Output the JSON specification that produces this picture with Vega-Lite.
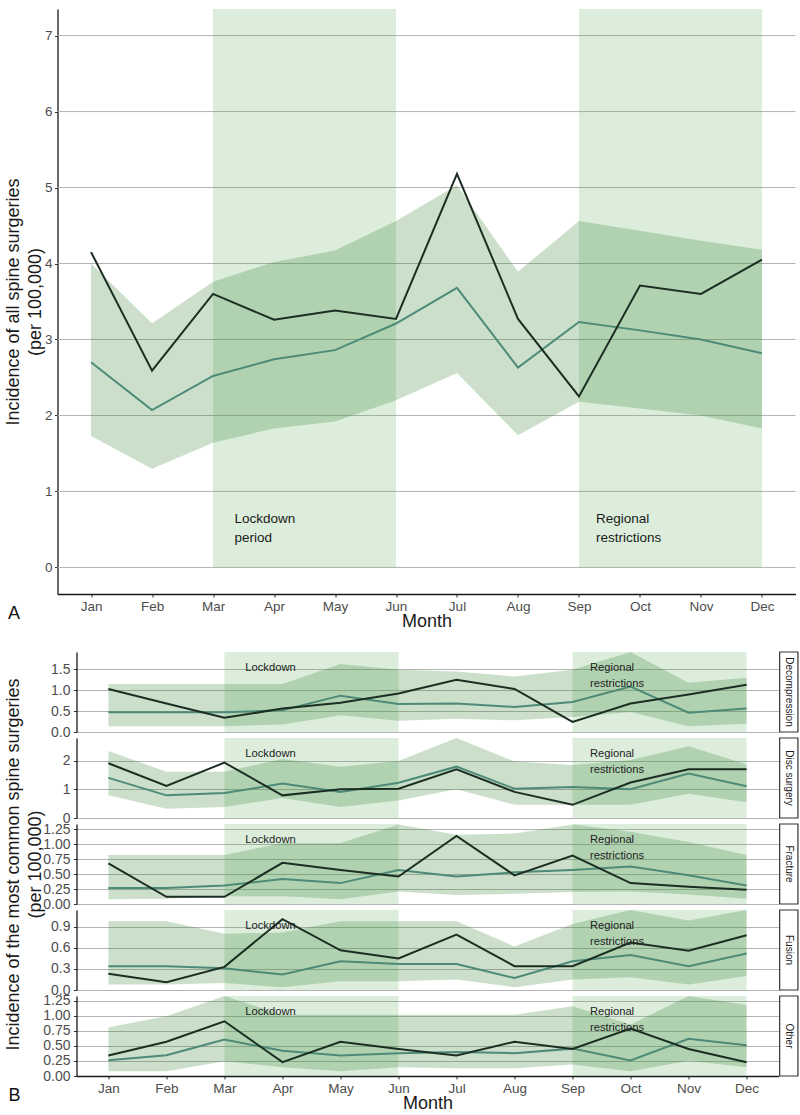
{
  "$schema": "https://vega.github.io/schema/vega-lite/v6.json",
  "background": "white",
  "padding": {"left": 3.5, "top": 9, "right": 0, "bottom": 0},
  "title": {"text": "B", "orient": "bottom", "anchor": "start", "frame": "bounds", "offset": -26, "dx": 4.5, "fontSize": 18, "fontWeight": "normal", "color": "#111111", "font": "Liberation Sans"},
  "columns": 1,
  "align": "none",
  "spacing": 20,
  "config": {
    "view": {"stroke": null},
    "font": "Liberation Sans",
    "axis": {"domainColor": "#1a1a1a", "domainWidth": 1.3, "tickColor": "#333333", "tickSize": 3, "tickWidth": 1, "labelColor": "#4d4d4d", "labelFont": "Liberation Sans", "titleFont": "Liberation Sans", "titleFontWeight": "normal", "titleColor": "#1a1a1a", "titleFontSize": 18, "gridColor": "#b3b3b3", "gridWidth": 1, "labelOverlap": false},
    "axisX": {"grid": false},
    "axisY": {"grid": true}
  },
  "datasets": {
    "shade": [{"start": 3, "end": 6}, {"start": 9, "end": 12}],
    "gridA": [{"g": 0}, {"g": 1}, {"g": 2}, {"g": 3}, {"g": 4}, {"g": 5}, {"g": 6}, {"g": 7}],
    "labels": [
      {"type": "All", "m": 3.35, "y": 0.64, "text": "Lockdown\nperiod"},
      {"type": "All", "m": 9.28, "y": 0.64, "text": "Regional\nrestrictions"},
      {"type": "Decompression", "m": 3.36, "y": 1.53, "text": "Lockdown"},
      {"type": "Decompression", "m": 9.3, "y": 1.53, "text": "Regional\nrestrictions"},
      {"type": "Disc surgery", "m": 3.36, "y": 2.22, "text": "Lockdown"},
      {"type": "Disc surgery", "m": 9.3, "y": 2.22, "text": "Regional\nrestrictions"},
      {"type": "Fracture", "m": 3.36, "y": 1.07, "text": "Lockdown"},
      {"type": "Fracture", "m": 9.3, "y": 1.07, "text": "Regional\nrestrictions"},
      {"type": "Fusion", "m": 3.36, "y": 0.91, "text": "Lockdown"},
      {"type": "Fusion", "m": 9.3, "y": 0.91, "text": "Regional\nrestrictions"},
      {"type": "Other", "m": 3.36, "y": 1.06, "text": "Lockdown"},
      {"type": "Other", "m": 9.3, "y": 1.06, "text": "Regional\nrestrictions"}
    ],
    "series": [
      {"type": "All", "m": 1, "obs": 4.15, "exp": 2.70, "lo": 1.73, "hi": 4.00},
      {"type": "All", "m": 2, "obs": 2.59, "exp": 2.07, "lo": 1.30, "hi": 3.21},
      {"type": "All", "m": 3, "obs": 3.60, "exp": 2.52, "lo": 1.64, "hi": 3.76},
      {"type": "All", "m": 4, "obs": 3.26, "exp": 2.74, "lo": 1.83, "hi": 4.02},
      {"type": "All", "m": 5, "obs": 3.38, "exp": 2.86, "lo": 1.92, "hi": 4.17},
      {"type": "All", "m": 6, "obs": 3.27, "exp": 3.21, "lo": 2.20, "hi": 4.56},
      {"type": "All", "m": 7, "obs": 5.18, "exp": 3.68, "lo": 2.56, "hi": 5.03},
      {"type": "All", "m": 8, "obs": 3.27, "exp": 2.63, "lo": 1.74, "hi": 3.89},
      {"type": "All", "m": 9, "obs": 2.25, "exp": 3.23, "lo": 2.18, "hi": 4.56},
      {"type": "All", "m": 10, "obs": 3.71, "exp": 3.12, "lo": 2.09, "hi": 4.43},
      {"type": "All", "m": 11, "obs": 3.60, "exp": 3.00, "lo": 2.00, "hi": 4.30},
      {"type": "All", "m": 12, "obs": 4.05, "exp": 2.82, "lo": 1.83, "hi": 4.18},

      {"type": "Decompression", "m": 1, "obs": 1.03, "exp": 0.47, "lo": 0.14, "hi": 1.15},
      {"type": "Decompression", "m": 2, "obs": 0.68, "exp": 0.47, "lo": 0.14, "hi": 1.15},
      {"type": "Decompression", "m": 3, "obs": 0.34, "exp": 0.47, "lo": 0.14, "hi": 1.15},
      {"type": "Decompression", "m": 4, "obs": 0.56, "exp": 0.52, "lo": 0.18, "hi": 1.15},
      {"type": "Decompression", "m": 5, "obs": 0.70, "exp": 0.87, "lo": 0.40, "hi": 1.63},
      {"type": "Decompression", "m": 6, "obs": 0.92, "exp": 0.67, "lo": 0.27, "hi": 1.49},
      {"type": "Decompression", "m": 7, "obs": 1.25, "exp": 0.68, "lo": 0.32, "hi": 1.45},
      {"type": "Decompression", "m": 8, "obs": 1.03, "exp": 0.60, "lo": 0.28, "hi": 1.33},
      {"type": "Decompression", "m": 9, "obs": 0.24, "exp": 0.72, "lo": 0.36, "hi": 1.49},
      {"type": "Decompression", "m": 10, "obs": 0.68, "exp": 1.09, "lo": 0.48, "hi": 1.915},
      {"type": "Decompression", "m": 11, "obs": 0.90, "exp": 0.46, "lo": 0.14, "hi": 1.18},
      {"type": "Decompression", "m": 12, "obs": 1.13, "exp": 0.56, "lo": 0.20, "hi": 1.30},

      {"type": "Disc surgery", "m": 1, "obs": 1.91, "exp": 1.40, "lo": 0.79, "hi": 2.34},
      {"type": "Disc surgery", "m": 2, "obs": 1.12, "exp": 0.79, "lo": 0.32, "hi": 1.61},
      {"type": "Disc surgery", "m": 3, "obs": 1.93, "exp": 0.87, "lo": 0.38, "hi": 1.61},
      {"type": "Disc surgery", "m": 4, "obs": 0.79, "exp": 1.20, "lo": 0.70, "hi": 2.06},
      {"type": "Disc surgery", "m": 5, "obs": 1.00, "exp": 0.91, "lo": 0.38, "hi": 1.79},
      {"type": "Disc surgery", "m": 6, "obs": 1.02, "exp": 1.23, "lo": 0.61, "hi": 1.99},
      {"type": "Disc surgery", "m": 7, "obs": 1.70, "exp": 1.79, "lo": 1.00, "hi": 2.79},
      {"type": "Disc surgery", "m": 8, "obs": 0.91, "exp": 1.02, "lo": 0.46, "hi": 1.97},
      {"type": "Disc surgery", "m": 9, "obs": 0.46, "exp": 1.08, "lo": 0.46, "hi": 1.85},
      {"type": "Disc surgery", "m": 10, "obs": 1.24, "exp": 1.00, "lo": 0.46, "hi": 2.02},
      {"type": "Disc surgery", "m": 11, "obs": 1.70, "exp": 1.55, "lo": 0.85, "hi": 2.50},
      {"type": "Disc surgery", "m": 12, "obs": 1.70, "exp": 1.11, "lo": 0.55, "hi": 1.87},

      {"type": "Fracture", "m": 1, "obs": 0.68, "exp": 0.27, "lo": 0.08, "hi": 0.82},
      {"type": "Fracture", "m": 2, "obs": 0.12, "exp": 0.27, "lo": 0.09, "hi": 0.82},
      {"type": "Fracture", "m": 3, "obs": 0.12, "exp": 0.31, "lo": 0.13, "hi": 0.82},
      {"type": "Fracture", "m": 4, "obs": 0.69, "exp": 0.42, "lo": 0.13, "hi": 1.02},
      {"type": "Fracture", "m": 5, "obs": 0.57, "exp": 0.35, "lo": 0.08, "hi": 1.02},
      {"type": "Fracture", "m": 6, "obs": 0.46, "exp": 0.57, "lo": 0.21, "hi": 1.33},
      {"type": "Fracture", "m": 7, "obs": 1.14, "exp": 0.46, "lo": 0.15, "hi": 1.16},
      {"type": "Fracture", "m": 8, "obs": 0.48, "exp": 0.53, "lo": 0.17, "hi": 1.18},
      {"type": "Fracture", "m": 9, "obs": 0.81, "exp": 0.57, "lo": 0.20, "hi": 1.33},
      {"type": "Fracture", "m": 10, "obs": 0.35, "exp": 0.63, "lo": 0.21, "hi": 1.21},
      {"type": "Fracture", "m": 11, "obs": 0.29, "exp": 0.48, "lo": 0.16, "hi": 1.04},
      {"type": "Fracture", "m": 12, "obs": 0.24, "exp": 0.31, "lo": 0.09, "hi": 0.82},

      {"type": "Fusion", "m": 1, "obs": 0.23, "exp": 0.34, "lo": 0.08, "hi": 0.98},
      {"type": "Fusion", "m": 2, "obs": 0.11, "exp": 0.34, "lo": 0.08, "hi": 0.98},
      {"type": "Fusion", "m": 3, "obs": 0.33, "exp": 0.31, "lo": 0.10, "hi": 0.80},
      {"type": "Fusion", "m": 4, "obs": 1.01, "exp": 0.22, "lo": 0.04, "hi": 0.82},
      {"type": "Fusion", "m": 5, "obs": 0.565, "exp": 0.41, "lo": 0.125, "hi": 0.98},
      {"type": "Fusion", "m": 6, "obs": 0.45, "exp": 0.37, "lo": 0.125, "hi": 0.98},
      {"type": "Fusion", "m": 7, "obs": 0.79, "exp": 0.37, "lo": 0.15, "hi": 0.98},
      {"type": "Fusion", "m": 8, "obs": 0.34, "exp": 0.17, "lo": 0.04, "hi": 0.62},
      {"type": "Fusion", "m": 9, "obs": 0.34, "exp": 0.41, "lo": 0.15, "hi": 0.94},
      {"type": "Fusion", "m": 10, "obs": 0.675, "exp": 0.50, "lo": 0.18, "hi": 1.14},
      {"type": "Fusion", "m": 11, "obs": 0.56, "exp": 0.34, "lo": 0.08, "hi": 0.99},
      {"type": "Fusion", "m": 12, "obs": 0.78, "exp": 0.52, "lo": 0.20, "hi": 1.14},

      {"type": "Other", "m": 1, "obs": 0.34, "exp": 0.26, "lo": 0.08, "hi": 0.81},
      {"type": "Other", "m": 2, "obs": 0.57, "exp": 0.345, "lo": 0.08, "hi": 0.995},
      {"type": "Other", "m": 3, "obs": 0.91, "exp": 0.605, "lo": 0.245, "hi": 1.33},
      {"type": "Other", "m": 4, "obs": 0.23, "exp": 0.42, "lo": 0.145, "hi": 1.02},
      {"type": "Other", "m": 5, "obs": 0.57, "exp": 0.34, "lo": 0.08, "hi": 1.02},
      {"type": "Other", "m": 6, "obs": 0.45, "exp": 0.38, "lo": 0.145, "hi": 1.02},
      {"type": "Other", "m": 7, "obs": 0.34, "exp": 0.40, "lo": 0.13, "hi": 1.02},
      {"type": "Other", "m": 8, "obs": 0.57, "exp": 0.38, "lo": 0.13, "hi": 1.02},
      {"type": "Other", "m": 9, "obs": 0.45, "exp": 0.455, "lo": 0.19, "hi": 1.16},
      {"type": "Other", "m": 10, "obs": 0.79, "exp": 0.26, "lo": 0.08, "hi": 0.855},
      {"type": "Other", "m": 11, "obs": 0.45, "exp": 0.62, "lo": 0.255, "hi": 1.33},
      {"type": "Other", "m": 12, "obs": 0.23, "exp": 0.51, "lo": 0.145, "hi": 1.18}
    ]
  },
  "concat": [
    {
      "width": 719,
      "height": 585,
      "title": {"text": "A", "orient": "bottom", "anchor": "start", "frame": "bounds", "offset": -26, "dx": 4, "fontSize": 18, "fontWeight": "normal", "color": "#111111", "font": "Liberation Sans"},
      "layer": [
        {
          "data": {"name": "gridA"},
          "mark": {"type": "rule", "color": "#b3b3b3", "strokeWidth": 1},
          "encoding": {
            "x": {"datum": 0.45, "type": "quantitative"},
            "x2": {"datum": 12.55},
            "y": {"field": "g", "type": "quantitative"}
          }
        },
        {
          "data": {"name": "shade"},
          "mark": {"type": "rect", "fill": "#5aa85a", "opacity": 0.21},
          "encoding": {
            "x": {"field": "start", "type": "quantitative", "scale": {"domain": [0.45, 12.55], "range": [-19, 719], "nice": false, "zero": false},
                  "axis": {"values": [1,2,3,4,5,6,7,8,9,10,11,12], "tickCount": 20, "labelExpr": "['Jan','Feb','Mar','Apr','May','Jun','Jul','Aug','Sep','Oct','Nov','Dec'][datum.value - 1]", "title": "Month", "labelFontSize": 13.5, "labelPadding": 2, "titlePadding": 0, "labelFlush": false, "labelOverlap": false}},
            "x2": {"field": "end"},
            "y": {"datum": 0, "type": "quantitative", "scale": {"domain": [-0.35, 7.35], "nice": false, "zero": false},
                  "axis": {"values": [0,1,2,3,4,5,6,7], "tickCount": 20, "format": "d", "grid": false, "offset": 19, "title": ["Incidence of all spine surgeries", "(per 100,000)"], "titleLineHeight": 22, "labelFontSize": 13.5, "labelPadding": 2.5, "titlePadding": 0.5, "minExtent": 13, "maxExtent": 13, "labelOverlap": false}},
            "y2": {"datum": 7.35}
          }
        },
        {
          "data": {"name": "series"},
          "transform": [{"filter": "datum.type === 'All'"}],
          "mark": {"type": "area", "fill": "#3f8a3f", "opacity": 0.27},
          "encoding": {
            "x": {"field": "m", "type": "quantitative"},
            "y": {"field": "lo", "type": "quantitative"},
            "y2": {"field": "hi"}
          }
        },
        {
          "data": {"name": "series"},
          "transform": [{"filter": "datum.type === 'All'"}],
          "mark": {"type": "line", "color": "#4d8b78", "strokeWidth": 2},
          "encoding": {
            "x": {"field": "m", "type": "quantitative"},
            "y": {"field": "exp", "type": "quantitative"}
          }
        },
        {
          "data": {"name": "series"},
          "transform": [{"filter": "datum.type === 'All'"}],
          "mark": {"type": "line", "color": "#1c2e22", "strokeWidth": 2},
          "encoding": {
            "x": {"field": "m", "type": "quantitative"},
            "y": {"field": "obs", "type": "quantitative"}
          }
        },
        {
          "data": {"name": "labels"},
          "transform": [{"filter": "datum.type === 'All'"}],
          "mark": {"type": "text", "align": "left", "baseline": "middle", "lineBreak": "\n", "lineHeight": 19, "fontSize": 13.5, "color": "#1a1a1a"},
          "encoding": {
            "x": {"field": "m", "type": "quantitative"},
            "y": {"field": "y", "type": "quantitative"},
            "text": {"field": "text"}
          }
        }
      ]
    },
    {
      "columns": 1,
      "spacing": 6,
      "bounds": "flush",
      "concat": [
        {
          "width": 702, "height": 80,
          "layer": [
            {"data": {"name": "shade"}, "mark": {"type": "rect", "fill": "#5aa85a", "opacity": 0.21},
             "encoding": {"x": {"field": "start", "type": "quantitative", "scale": {"domain": [0.45, 12.55], "nice": false, "zero": false}, "axis": null}, "x2": {"field": "end"}}},
            {"data": {"name": "series"}, "transform": [{"filter": "datum.type === 'Decompression'"}], "mark": {"type": "area", "fill": "#3f8a3f", "opacity": 0.27},
             "encoding": {"x": {"field": "m", "type": "quantitative", "axis": null},
                          "y": {"field": "lo", "type": "quantitative", "scale": {"domain": [0, 1.915], "nice": false}, "axis": {"values": [0, 0.5, 1, 1.5], "tickCount": 20, "format": ".1f", "title": null, "labelFontSize": 14, "labelPadding": 3.5, "minExtent": 32.5, "maxExtent": 32.5, "labelOverlap": false}},
                          "y2": {"field": "hi"}}},
            {"data": {"name": "series"}, "transform": [{"filter": "datum.type === 'Decompression'"}], "mark": {"type": "line", "color": "#4d8b78", "strokeWidth": 2},
             "encoding": {"x": {"field": "m", "type": "quantitative", "axis": null}, "y": {"field": "exp", "type": "quantitative"}}},
            {"data": {"name": "series"}, "transform": [{"filter": "datum.type === 'Decompression'"}], "mark": {"type": "line", "color": "#1c2e22", "strokeWidth": 2},
             "encoding": {"x": {"field": "m", "type": "quantitative", "axis": null}, "y": {"field": "obs", "type": "quantitative"}}},
            {"data": {"name": "labels"}, "transform": [{"filter": "datum.type === 'Decompression'"}], "mark": {"type": "text", "align": "left", "baseline": "middle", "lineBreak": "\n", "lineHeight": 16, "fontSize": 11.2, "color": "#222222"},
             "encoding": {"x": {"field": "m", "type": "quantitative", "axis": null}, "y": {"field": "y", "type": "quantitative"}, "text": {"field": "text"}}},
            {"data": {"values": [{"type": "Decompression"}]}, "mark": {"type": "rect", "fill": "white", "stroke": "#333333", "strokeWidth": 1.2},
             "encoding": {"x": {"datum": 12.57, "type": "quantitative", "axis": null}, "x2": {"datum": 12.885}}},
            {"data": {"values": [{"type": "Decompression"}]}, "mark": {"type": "text", "angle": 90, "align": "center", "baseline": "middle", "fontSize": 10, "color": "#1a1a1a"},
             "encoding": {"x": {"datum": 12.727, "type": "quantitative", "axis": null}, "text": {"field": "type"}}}
          ]
        },
        {
          "width": 702, "height": 80,
          "layer": [
            {"data": {"name": "shade"}, "mark": {"type": "rect", "fill": "#5aa85a", "opacity": 0.21},
             "encoding": {"x": {"field": "start", "type": "quantitative", "scale": {"domain": [0.45, 12.55], "nice": false, "zero": false}, "axis": null}, "x2": {"field": "end"}}},
            {"data": {"name": "series"}, "transform": [{"filter": "datum.type === 'Disc surgery'"}], "mark": {"type": "area", "fill": "#3f8a3f", "opacity": 0.27},
             "encoding": {"x": {"field": "m", "type": "quantitative", "axis": null},
                          "y": {"field": "lo", "type": "quantitative", "scale": {"domain": [0, 2.79], "nice": false}, "axis": {"values": [0, 1, 2], "tickCount": 20, "format": "d", "title": null, "labelFontSize": 14, "labelPadding": 3.5, "minExtent": 32.5, "maxExtent": 32.5, "labelOverlap": false}},
                          "y2": {"field": "hi"}}},
            {"data": {"name": "series"}, "transform": [{"filter": "datum.type === 'Disc surgery'"}], "mark": {"type": "line", "color": "#4d8b78", "strokeWidth": 2},
             "encoding": {"x": {"field": "m", "type": "quantitative", "axis": null}, "y": {"field": "exp", "type": "quantitative"}}},
            {"data": {"name": "series"}, "transform": [{"filter": "datum.type === 'Disc surgery'"}], "mark": {"type": "line", "color": "#1c2e22", "strokeWidth": 2},
             "encoding": {"x": {"field": "m", "type": "quantitative", "axis": null}, "y": {"field": "obs", "type": "quantitative"}}},
            {"data": {"name": "labels"}, "transform": [{"filter": "datum.type === 'Disc surgery'"}], "mark": {"type": "text", "align": "left", "baseline": "middle", "lineBreak": "\n", "lineHeight": 16, "fontSize": 11.2, "color": "#222222"},
             "encoding": {"x": {"field": "m", "type": "quantitative", "axis": null}, "y": {"field": "y", "type": "quantitative"}, "text": {"field": "text"}}},
            {"data": {"values": [{"type": "Disc surgery"}]}, "mark": {"type": "rect", "fill": "white", "stroke": "#333333", "strokeWidth": 1.2},
             "encoding": {"x": {"datum": 12.57, "type": "quantitative", "axis": null}, "x2": {"datum": 12.885}}},
            {"data": {"values": [{"type": "Disc surgery"}]}, "mark": {"type": "text", "angle": 90, "align": "center", "baseline": "middle", "fontSize": 10, "color": "#1a1a1a"},
             "encoding": {"x": {"datum": 12.727, "type": "quantitative", "axis": null}, "text": {"field": "type"}}}
          ]
        },
        {
          "width": 702, "height": 80,
          "layer": [
            {"data": {"name": "shade"}, "mark": {"type": "rect", "fill": "#5aa85a", "opacity": 0.21},
             "encoding": {"x": {"field": "start", "type": "quantitative", "scale": {"domain": [0.45, 12.55], "nice": false, "zero": false}, "axis": null}, "x2": {"field": "end"}}},
            {"data": {"name": "series"}, "transform": [{"filter": "datum.type === 'Fracture'"}], "mark": {"type": "area", "fill": "#3f8a3f", "opacity": 0.27},
             "encoding": {"x": {"field": "m", "type": "quantitative", "axis": null},
                          "y": {"field": "lo", "type": "quantitative", "scale": {"domain": [0, 1.34], "nice": false}, "axis": {"values": [0, 0.25, 0.5, 0.75, 1, 1.25], "tickCount": 20, "format": ".2f", "title": ["Incidence of the most common spine surgeries", "(per 100,000)"], "titleLineHeight": 22, "titlePadding": 0, "labelFontSize": 14, "labelPadding": 3.5, "minExtent": 32.5, "maxExtent": 32.5, "labelOverlap": false}},
                          "y2": {"field": "hi"}}},
            {"data": {"name": "series"}, "transform": [{"filter": "datum.type === 'Fracture'"}], "mark": {"type": "line", "color": "#4d8b78", "strokeWidth": 2},
             "encoding": {"x": {"field": "m", "type": "quantitative", "axis": null}, "y": {"field": "exp", "type": "quantitative"}}},
            {"data": {"name": "series"}, "transform": [{"filter": "datum.type === 'Fracture'"}], "mark": {"type": "line", "color": "#1c2e22", "strokeWidth": 2},
             "encoding": {"x": {"field": "m", "type": "quantitative", "axis": null}, "y": {"field": "obs", "type": "quantitative"}}},
            {"data": {"name": "labels"}, "transform": [{"filter": "datum.type === 'Fracture'"}], "mark": {"type": "text", "align": "left", "baseline": "middle", "lineBreak": "\n", "lineHeight": 16, "fontSize": 11.2, "color": "#222222"},
             "encoding": {"x": {"field": "m", "type": "quantitative", "axis": null}, "y": {"field": "y", "type": "quantitative"}, "text": {"field": "text"}}},
            {"data": {"values": [{"type": "Fracture"}]}, "mark": {"type": "rect", "fill": "white", "stroke": "#333333", "strokeWidth": 1.2},
             "encoding": {"x": {"datum": 12.57, "type": "quantitative", "axis": null}, "x2": {"datum": 12.885}}},
            {"data": {"values": [{"type": "Fracture"}]}, "mark": {"type": "text", "angle": 90, "align": "center", "baseline": "middle", "fontSize": 10, "color": "#1a1a1a"},
             "encoding": {"x": {"datum": 12.727, "type": "quantitative", "axis": null}, "text": {"field": "type"}}}
          ]
        },
        {
          "width": 702, "height": 80,
          "layer": [
            {"data": {"name": "shade"}, "mark": {"type": "rect", "fill": "#5aa85a", "opacity": 0.21},
             "encoding": {"x": {"field": "start", "type": "quantitative", "scale": {"domain": [0.45, 12.55], "nice": false, "zero": false}, "axis": null}, "x2": {"field": "end"}}},
            {"data": {"name": "series"}, "transform": [{"filter": "datum.type === 'Fusion'"}], "mark": {"type": "area", "fill": "#3f8a3f", "opacity": 0.27},
             "encoding": {"x": {"field": "m", "type": "quantitative", "axis": null},
                          "y": {"field": "lo", "type": "quantitative", "scale": {"domain": [0, 1.14], "nice": false}, "axis": {"values": [0, 0.3, 0.6, 0.9], "tickCount": 20, "format": ".1f", "title": null, "labelFontSize": 14, "labelPadding": 3.5, "minExtent": 32.5, "maxExtent": 32.5, "labelOverlap": false}},
                          "y2": {"field": "hi"}}},
            {"data": {"name": "series"}, "transform": [{"filter": "datum.type === 'Fusion'"}], "mark": {"type": "line", "color": "#4d8b78", "strokeWidth": 2},
             "encoding": {"x": {"field": "m", "type": "quantitative", "axis": null}, "y": {"field": "exp", "type": "quantitative"}}},
            {"data": {"name": "series"}, "transform": [{"filter": "datum.type === 'Fusion'"}], "mark": {"type": "line", "color": "#1c2e22", "strokeWidth": 2},
             "encoding": {"x": {"field": "m", "type": "quantitative", "axis": null}, "y": {"field": "obs", "type": "quantitative"}}},
            {"data": {"name": "labels"}, "transform": [{"filter": "datum.type === 'Fusion'"}], "mark": {"type": "text", "align": "left", "baseline": "middle", "lineBreak": "\n", "lineHeight": 16, "fontSize": 11.2, "color": "#222222"},
             "encoding": {"x": {"field": "m", "type": "quantitative", "axis": null}, "y": {"field": "y", "type": "quantitative"}, "text": {"field": "text"}}},
            {"data": {"values": [{"type": "Fusion"}]}, "mark": {"type": "rect", "fill": "white", "stroke": "#333333", "strokeWidth": 1.2},
             "encoding": {"x": {"datum": 12.57, "type": "quantitative", "axis": null}, "x2": {"datum": 12.885}}},
            {"data": {"values": [{"type": "Fusion"}]}, "mark": {"type": "text", "angle": 90, "align": "center", "baseline": "middle", "fontSize": 10, "color": "#1a1a1a"},
             "encoding": {"x": {"datum": 12.727, "type": "quantitative", "axis": null}, "text": {"field": "type"}}}
          ]
        },
        {
          "width": 702, "height": 80,
          "layer": [
            {"data": {"name": "shade"}, "mark": {"type": "rect", "fill": "#5aa85a", "opacity": 0.21},
             "encoding": {"x": {"field": "start", "type": "quantitative", "scale": {"domain": [0.45, 12.55], "nice": false, "zero": false},
                                "axis": {"values": [1,2,3,4,5,6,7,8,9,10,11,12], "tickCount": 20, "labelExpr": "['Jan','Feb','Mar','Apr','May','Jun','Jul','Aug','Sep','Oct','Nov','Dec'][datum.value - 1]", "title": "Month", "labelFontSize": 13.5, "labelPadding": 2, "titlePadding": 0, "labelFlush": false, "labelOverlap": false}},
                          "x2": {"field": "end"}}},
            {"data": {"name": "series"}, "transform": [{"filter": "datum.type === 'Other'"}], "mark": {"type": "area", "fill": "#3f8a3f", "opacity": 0.27},
             "encoding": {"x": {"field": "m", "type": "quantitative"},
                          "y": {"field": "lo", "type": "quantitative", "scale": {"domain": [0, 1.33], "nice": false}, "axis": {"values": [0, 0.25, 0.5, 0.75, 1, 1.25], "tickCount": 20, "format": ".2f", "title": null, "labelFontSize": 14, "labelPadding": 3.5, "minExtent": 32.5, "maxExtent": 32.5, "labelOverlap": false}},
                          "y2": {"field": "hi"}}},
            {"data": {"name": "series"}, "transform": [{"filter": "datum.type === 'Other'"}], "mark": {"type": "line", "color": "#4d8b78", "strokeWidth": 2},
             "encoding": {"x": {"field": "m", "type": "quantitative"}, "y": {"field": "exp", "type": "quantitative"}}},
            {"data": {"name": "series"}, "transform": [{"filter": "datum.type === 'Other'"}], "mark": {"type": "line", "color": "#1c2e22", "strokeWidth": 2},
             "encoding": {"x": {"field": "m", "type": "quantitative"}, "y": {"field": "obs", "type": "quantitative"}}},
            {"data": {"name": "labels"}, "transform": [{"filter": "datum.type === 'Other'"}], "mark": {"type": "text", "align": "left", "baseline": "middle", "lineBreak": "\n", "lineHeight": 16, "fontSize": 11.2, "color": "#222222"},
             "encoding": {"x": {"field": "m", "type": "quantitative"}, "y": {"field": "y", "type": "quantitative"}, "text": {"field": "text"}}},
            {"data": {"values": [{"type": "Other"}]}, "mark": {"type": "rect", "fill": "white", "stroke": "#333333", "strokeWidth": 1.2},
             "encoding": {"x": {"datum": 12.57, "type": "quantitative"}, "x2": {"datum": 12.885}}},
            {"data": {"values": [{"type": "Other"}]}, "mark": {"type": "text", "angle": 90, "align": "center", "baseline": "middle", "fontSize": 10, "color": "#1a1a1a"},
             "encoding": {"x": {"datum": 12.727, "type": "quantitative"}, "text": {"field": "type"}}}
          ]
        }
      ]
    }
  ]
}
